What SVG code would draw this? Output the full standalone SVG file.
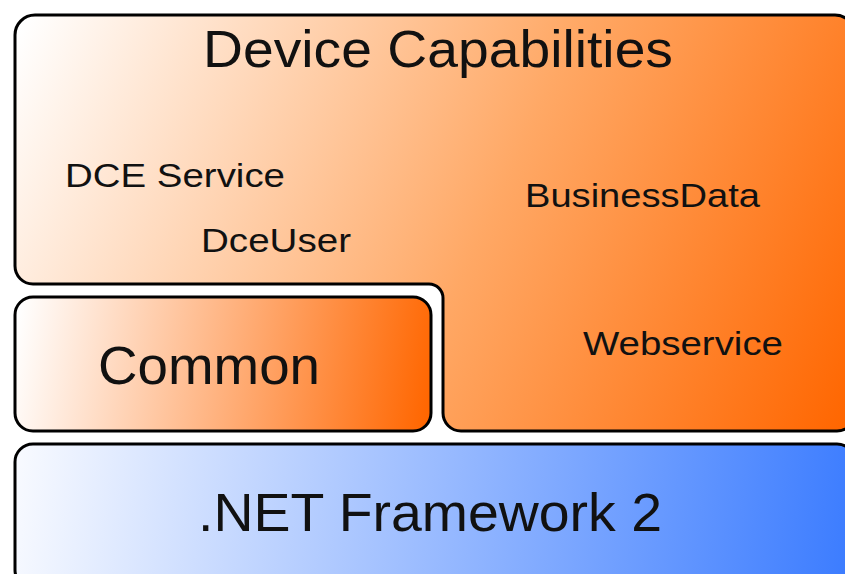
<svg xmlns="http://www.w3.org/2000/svg" width="845" height="574" viewBox="0 0 845 574">
  <style>
    .box { stroke: #000; stroke-width: 3; stroke-linejoin: round; }
    .lbl { font-family: "Liberation Sans", Arial, sans-serif; fill: #111; }
    .big { font-size: 52px; }
    .huge { font-size: 54px; }
    .mid { font-size: 33px; }
  </style>
  <defs>
    <linearGradient id="orangeDiag" gradientUnits="userSpaceOnUse" x1="15" y1="40" x2="845" y2="430">
      <stop offset="0" stop-color="#ffffff"/>
      <stop offset="0.55" stop-color="#ffa865"/>
      <stop offset="1" stop-color="#ff6600"/>
    </linearGradient>
    <linearGradient id="orangeRow" gradientUnits="userSpaceOnUse" x1="15" y1="330" x2="431" y2="400">
      <stop offset="0" stop-color="#ffffff"/>
      <stop offset="1" stop-color="#ff6600"/>
    </linearGradient>
    <linearGradient id="blueRow" gradientUnits="userSpaceOnUse" x1="15" y1="470" x2="845" y2="560">
      <stop offset="0" stop-color="#f8faff"/>
      <stop offset="1" stop-color="#3d7dff"/>
    </linearGradient>
  </defs>

  <!-- L-shaped upper layer wrapping the Common block -->
  <g id="device-capabilities">
    <path class="box" fill="url(#orangeDiag)"
      d="M15,35 A20,20 0 0 1 35,15 L835,15 A20,20 0 0 1 855,35 L855,413 A18,18 0 0 1 837,431
         L461,431 A18,18 0 0 1 443,413 L443,298 A14,14 0 0 0 429,284 L33,284 A18,18 0 0 1 15,266 Z"/>
    <text class="lbl big" x="203" y="67" textLength="470" lengthAdjust="spacingAndGlyphs">Device Capabilities</text>
    <text class="lbl mid" x="65" y="187" textLength="220" lengthAdjust="spacingAndGlyphs">DCE Service</text>
    <text class="lbl mid" x="201" y="252" textLength="150" lengthAdjust="spacingAndGlyphs">DceUser</text>
    <text class="lbl mid" x="525" y="207" textLength="235" lengthAdjust="spacingAndGlyphs">BusinessData</text>
    <text class="lbl mid" x="583" y="355" textLength="200" lengthAdjust="spacingAndGlyphs">Webservice</text>
  </g>

  <g id="common">
    <rect class="box" x="15" y="297" width="416" height="134" rx="18" ry="18" fill="url(#orangeRow)"/>
    <text class="lbl huge" x="98" y="384" textLength="222" lengthAdjust="spacingAndGlyphs">Common</text>
  </g>

  <g id="net-framework">
    <rect class="box" x="15" y="444" width="840" height="144" rx="18" ry="18" fill="url(#blueRow)"/>
    <text class="lbl huge" x="198" y="531" textLength="464" lengthAdjust="spacingAndGlyphs">.NET Framework 2</text>
  </g>
</svg>
